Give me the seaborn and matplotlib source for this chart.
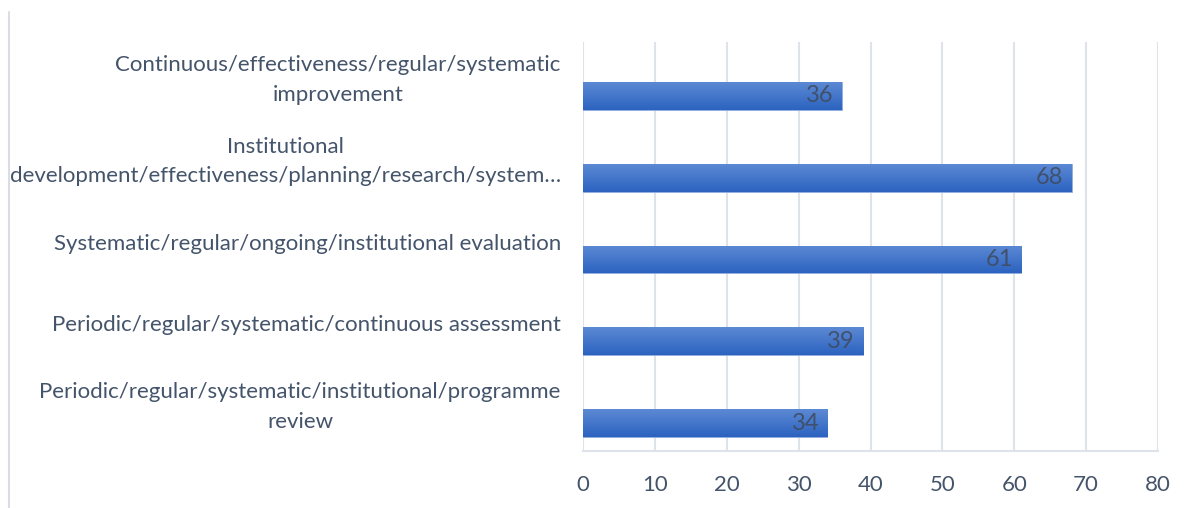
import numpy as np
import pandas as pd
import seaborn as sns
import matplotlib.pyplot as plt
from matplotlib.lines import Line2D
from matplotlib.colors import LinearSegmentedColormap

categories = [
    'Continuous/effectiveness/regular/systematic\nimprovement',
    'Institutional\ndevelopment/effectiveness/planning/research/system…',
    'Systematic/regular/ongoing/institutional evaluation',
    'Periodic/regular/systematic/continuous assessment',
    'Periodic/regular/systematic/institutional/programme\nreview',
]
counts = [36, 68, 61, 39, 34]
x_ticks = [0, 10, 20, 30, 40, 50, 60, 70, 80]

TEXT = '#44546A'
GRID = '#DEE3EA'

sns.set_theme(style='white')
plt.rcParams['font.family'] = ['Lato', 'DejaVu Sans']

df = pd.DataFrame({'category': categories, 'count': counts})

fig = plt.figure(figsize=(11.96, 5.08), dpi=100)
ax = fig.add_axes([583 / 1196, 1 - 451 / 508, (1158 - 583) / 1196, (451 - 42) / 508])

sns.barplot(data=df, x='count', y='category', orient='h', width=0.34,
            color='#3A6FC8', ax=ax, zorder=3)

# excel-style shift of bars below category centre + vertical gradient
cmap = LinearSegmentedColormap.from_list('blu', ['#5C89D4', '#2C63C0'])
grad = np.linspace(0, 1, 64).reshape(-1, 1)
for p in ax.patches:
    p.set_y(p.get_y() + 0.16)
    p.set_edgecolor('#8FAEE0')
    p.set_linewidth(0.6)
    x0, y0, w, h = p.get_x(), p.get_y(), p.get_width(), p.get_height()
    im = ax.imshow(grad, cmap=cmap, aspect='auto', extent=(x0, x0 + w, y0 + h, y0),
                   zorder=3.5, interpolation='bilinear')
    im.set_clip_path(p)

for i, v in enumerate(counts):
    ax.annotate(str(v), xy=(v, i + 0.16), xytext=(-6, 0), textcoords='offset points',
                ha='right', va='center', fontsize=17, color='#3F4A5C', alpha=0.85, zorder=5)

ax.set_xlim(0, 80)
ax.set_ylim(4.5, -0.5)
ax.set_xticks(x_ticks)
ax.set_xlabel('')
ax.set_ylabel('')
ax.grid(axis='x', color=GRID, linewidth=1.5, zorder=0)
ax.grid(axis='y', visible=False)
for s in ['top', 'right', 'left']:
    ax.spines[s].set_visible(False)
ax.spines['bottom'].set_color(GRID)
ax.spines['bottom'].set_linewidth(1.5)

ax.tick_params(axis='x', length=0, pad=17, labelsize=16, labelcolor=TEXT)
ax.tick_params(axis='y', length=0, pad=16, labelsize=16, labelcolor=TEXT)
for lab in ax.get_yticklabels():
    lab.set_multialignment('center')
    lab.set_linespacing(1.6)
    lab.set_y(lab.get_position()[1])
    lab.set_verticalalignment('center')
    lab.set_transform(lab.get_transform() + plt.matplotlib.transforms.ScaledTranslation(0, 3 / 100, fig.dpi_scale_trans))

fig.add_artist(Line2D([9 / 1196, 9 / 1196], [0, 1 - 12 / 508], color='#DADDE2', linewidth=1.5))

fig.savefig('out.png', dpi=100)
